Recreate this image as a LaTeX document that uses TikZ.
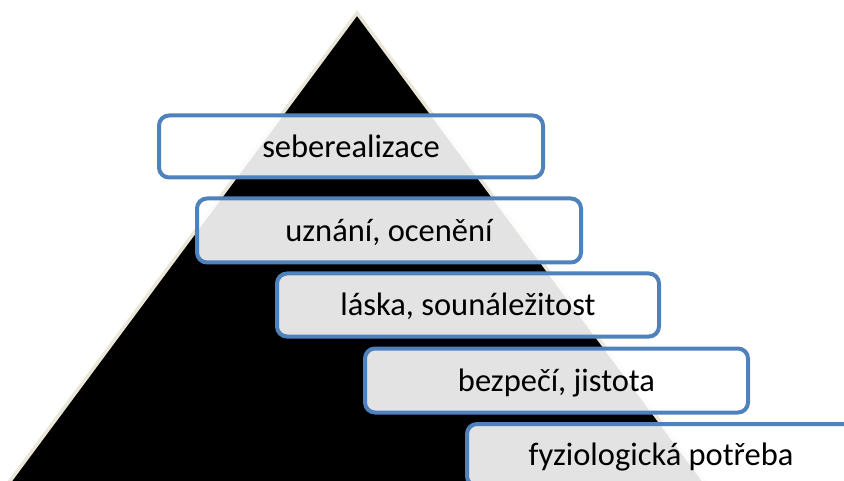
\documentclass[tikz,border=0pt]{standalone}
\usepackage{fontspec}
\setmainfont{Carlito}
\definecolor{boxblue}{RGB}{79,129,189}
\definecolor{beige}{RGB}{234,231,216}
\tikzset{
  level/.style={draw=boxblue, line width=4pt, rounded corners=10pt,
    fill=white, fill opacity=0.89, text opacity=1,
    minimum width=384pt, minimum height=62pt, inner sep=0pt,
    font=\fontsize{32.5pt}{37pt}\selectfont,
    text height=24.2pt, text depth=2.6pt},
  pyramid/.style={fill=black, draw=beige, line width=3.5pt, line join=miter}
}
\begin{document}
\begin{tikzpicture}[x=1pt, y=-1pt]
  \useasboundingbox (0,0) rectangle (844,481);
  \clip (0,0) rectangle (844,481);
  \fill[white] (0,0) rectangle (844,481);
  % the pyramid, its base below the lower edge
  \coordinate (apex) at (357,13);
  \coordinate (baseL) at (-30,535);
  \coordinate (baseR) at (744,535);
  \draw[pyramid] (apex) -- (baseR) -- (baseL) -- cycle;
  % levels of needs, top to bottom
  \node[level] (self)   at (351,146.5) {seberealizace};
  \node[level, minimum height=64pt] (esteem) at (389,230.5) {uznání, ocenění};
  \node[level, minimum height=63pt, minimum width=382pt] (love)   at (468,305) {láska, sounáležitost};
  \node[level, minimum height=64pt, minimum width=383pt] (safety) at (556.5,380.5) {bezpečí, jistota};
  \node[level, minimum width=388pt] (body)   at (661,455) {fyziologická potřeba};
\end{tikzpicture}
\end{document}
